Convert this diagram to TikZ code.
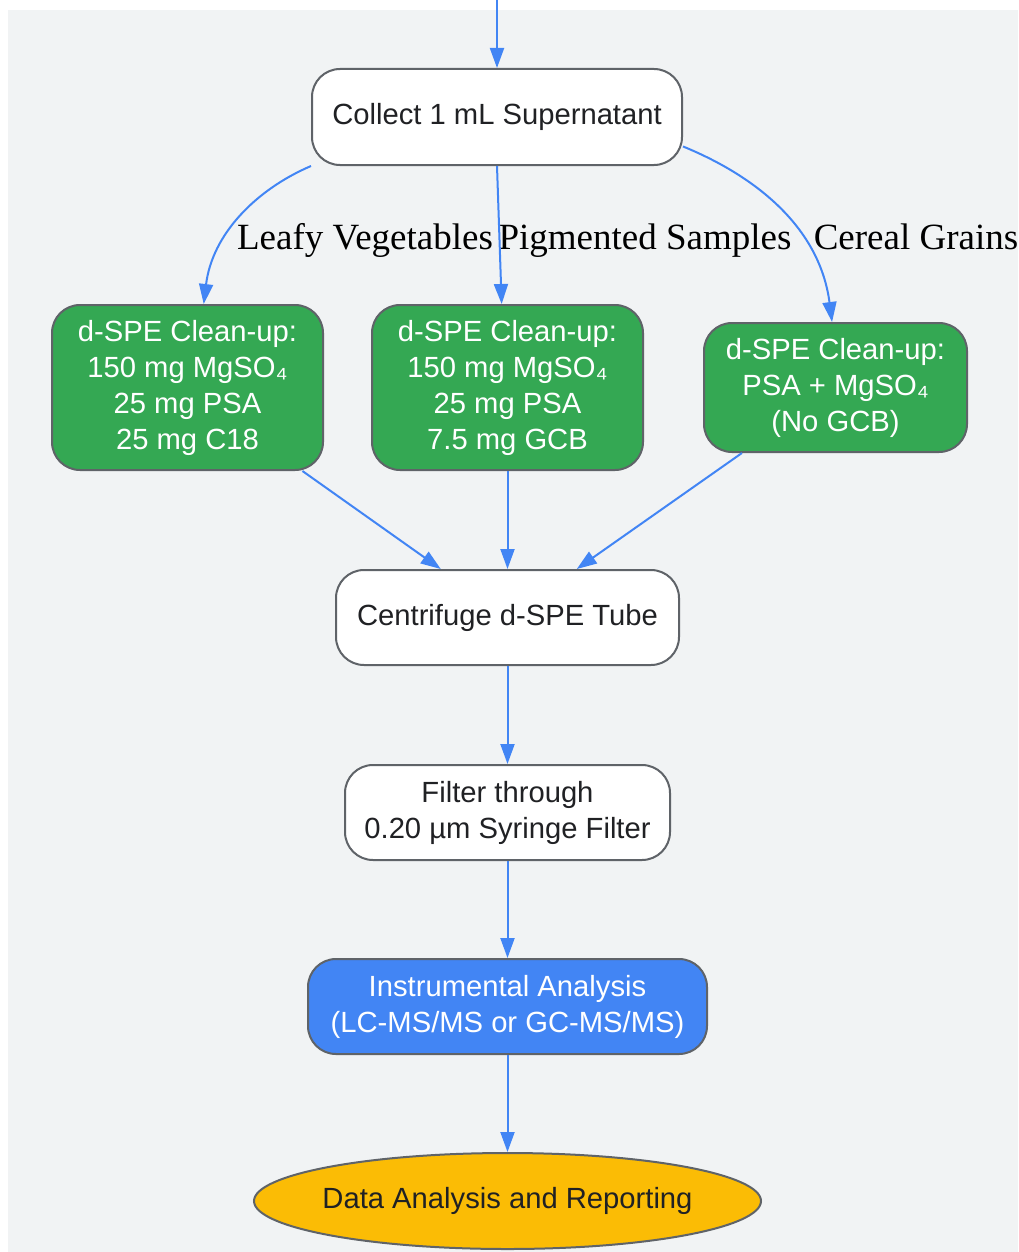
\documentclass[tikz,border=0pt]{standalone}
\usepackage{fontspec}
\setmainfont{Liberation Sans}
\newfontfamily\labelfont{Liberation Serif}
\definecolor{bggrey}{HTML}{F1F3F4}
\definecolor{edgeblue}{HTML}{4285F4}
\definecolor{boxgreen}{HTML}{34A853}
\definecolor{boxyellow}{HTML}{FBBC05}
\definecolor{boxline}{HTML}{5F6368}
\definecolor{textdark}{HTML}{202124}
\usetikzlibrary{arrows.meta, shapes.geometric, calc}

\begin{document}
\begin{tikzpicture}[x=0.5pt, y=-0.5pt,
every node/.append style={align=center,
	font=\fontsize{14.6}{18}\selectfont},
stepbox/.style={shape=rectangle, rounded corners=14pt, draw=boxline,
	line width=1pt, fill=white, text=textdark},
cleanbox/.style={stepbox, fill=boxgreen, text=white},
runbox/.style={stepbox, fill=edgeblue, text=white},
endbox/.style={shape=ellipse, draw=boxline, line width=1pt,
	fill=boxyellow, text=textdark, inner xsep=-3pt, inner ysep=0pt},
branch/.style={font=\labelfont\fontsize{18.5}{22}\selectfont, text=black,
	anchor=base},
flow/.style={draw=edgeblue, line width=1pt,
	-{Triangle[length=10pt, width=7pt]}}]

\useasboundingbox (0, 0) rectangle (1018, 1252);
\fill[bggrey] (8, 10) rectangle (1018, 1252);

\coordinate (In) at (497, 0);
\node[stepbox, minimum width=185pt, minimum height=48pt] at (497, 117) (Collect){Collect 1 mL Supernatant};

\node[cleanbox, minimum width=135.5pt, minimum height=82.5pt] at (187.5, 387.5) (Leafy){d-SPE Clean-up:\\150 mg MgSO₄\\25 mg PSA\\25 mg C18};
\node[cleanbox, minimum width=135.5pt, minimum height=82.5pt] at (507.5, 387.5) (Pigment){d-SPE Clean-up:\\150 mg MgSO₄\\25 mg PSA\\7.5 mg GCB};
\node[cleanbox, minimum width=131.5pt, minimum height=64.5pt] at (835.5, 387.5) (Cereal){d-SPE Clean-up:\\PSA + MgSO₄\\(No GCB)};

\node[stepbox, minimum width=171.5pt, minimum height=47.5pt] at (507.5, 617.5) (Spin){Centrifuge d-SPE Tube};
\node[stepbox, minimum width=162.5pt, minimum height=47.5pt] at (507.5, 812.5) (Filter){Filter through\\0.20 µm Syringe Filter};
\node[runbox, minimum width=199.5pt, minimum height=47.5pt] at (507.5, 1006.5) (Instr){Instrumental Analysis\\(LC-MS/MS or GC-MS/MS)};
\node[endbox, minimum width=253.5pt, minimum height=48pt] at (507.5, 1201) (Report){Data Analysis and Reporting};

\node[branch] at (365, 249) (lblLeafy){Leafy Vegetables};
\node[branch] at (645, 249) (lblPigment){Pigmented Samples};
\node[branch] at (916, 249) (lblCereal){Cereal Grains};

\draw[flow] (In) -- (Collect.north);
\draw[flow] (Collect.south west) .. controls (255, 190) and (212, 235) .. (Leafy.79);
\draw[flow] (Collect.south) -- (Pigment.94);
\draw[flow] (Collect.-9.5) .. controls (760, 178) and (820, 230) .. (Cereal.93);
\draw[flow] (Leafy.-36) -- (Spin.144);
\draw[flow] (Pigment.south) -- (Spin.north);
\draw[flow] (Cereal.-145) -- (Spin.35.5);
\draw[flow] (Spin.south) -- (Filter.north);
\draw[flow] (Filter.south) -- (Instr.north);
\draw[flow] (Instr.south) -- (Report.north);
\end{tikzpicture}
\end{document}
